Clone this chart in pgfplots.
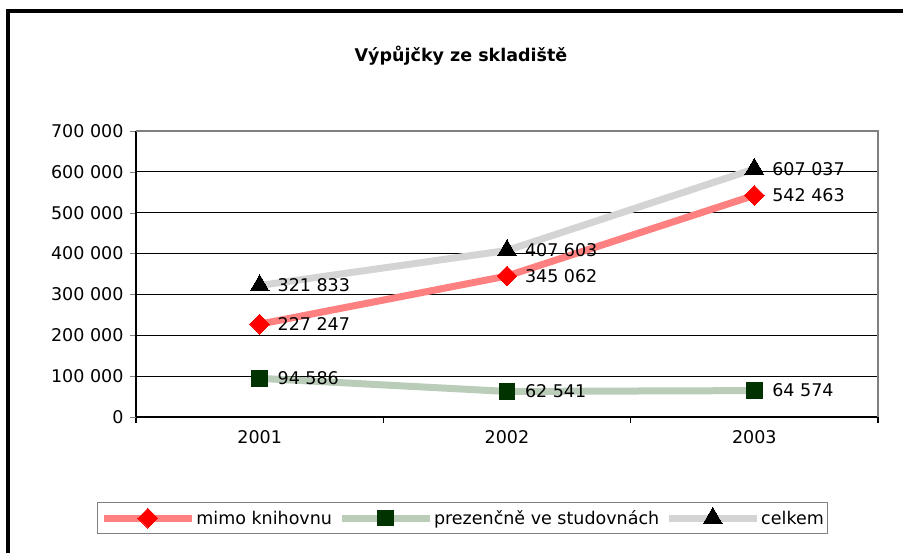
\documentclass[border=0pt]{standalone}
\usepackage{pgfplots}
\pgfplotsset{compat=1.18}
\usepackage{fontspec}
\setmainfont{DejaVu Sans}
\definecolor{salmonline}{RGB}{255,128,128}
\definecolor{greenline}{RGB}{185,205,185}
\definecolor{grayline}{RGB}{212,212,212}
\definecolor{darkgreenmark}{RGB}{0,51,0}
\definecolor{frameGray}{RGB}{128,128,128}
\newcommand{\chartfont}{\fontsize{17.5}{20}\selectfont}

\begin{document}
\begin{tikzpicture}[x=1pt,y=1pt]
  % outer chart frame, partly beyond the page edge
  \draw[line width=3.5pt] (8,-40) -- (8,542) -- (1000,542);
  \node[font=\bfseries\chartfont] at (461,497) {Výpůjčky ze skladiště};

  \begin{axis}[
      at={(136pt,136pt)}, anchor=south west,
      width=742pt, height=286pt, scale only axis,
      xmin=0.5, xmax=3.5, ymin=0, ymax=700000,
      scaled y ticks=false,
      axis x line*=bottom, axis y line*=left,
      axis line style={black, line width=1.1pt, -},
      xtick={1,2,3}, xticklabels={2001,2002,2003},
      minor xtick={0.5,1.5,2.5,3.5},
      major x tick style={draw=none},
      minor x tick style={black, line width=1.1pt},
      ytick={0,100000,...,700000},
      yticklabels={0,100 000,200 000,300 000,400 000,500 000,600 000,700 000},
      tick align=outside, major tick length=6pt, minor tick length=6pt,
      ymajorgrids, grid style={black, line width=0.8pt},
      tick label style={font=\chartfont},
      yticklabel style={xshift=-3pt},
      xticklabel style={yshift=-4pt},
      clip=false,
      legend columns=3,
      legend style={at={(-0.0526,-0.297)}, anchor=north west,
        draw=frameGray, line width=0.8pt, font=\chartfont,
        inner xsep=3pt, inner ysep=5pt,
        nodes={inner xsep=1pt},
        /tikz/every even column/.append style={column sep=5pt}},
      legend cell align=left,
      legend image code/.code={
        \draw[mark repeat=2, mark phase=2] plot coordinates {(0pt,0pt) (44pt,0pt) (88pt,0pt)};},
      nodes near coords, point meta=explicit symbolic,
      every node near coord/.append style={font=\chartfont, anchor=west, xshift=16pt, yshift=0pt, text=black, inner sep=2pt},
    ]
    \addplot[salmonline, line width=7pt, mark=square*, mark size=7pt,
      mark options={fill=red, draw=red, line width=0pt, rotate=45}]
      coordinates {(1,227247) [227 247] (2,345062) [345 062] (3,542463) [542 463]};
    \addlegendentry{mimo knihovnu}
    \addplot[greenline, line width=7pt, mark=square*, mark size=7.8pt,
      mark options={fill=darkgreenmark, draw=darkgreenmark, line width=0pt}]
      coordinates {(1,94586) [94 586] (2,62541) [62 541] (3,64574) [64 574]};
    \addlegendentry{prezenčně ve studovnách}
    \addplot[grayline, line width=7pt, mark=triangle*, mark size=10.8pt,
      mark options={fill=black, draw=black, line width=0pt}]
      coordinates {(1,321833) [321 833] (2,407603) [407 603] (3,607037) [607 037]};
    \addlegendentry{celkem}
    \draw[frameGray, line width=1.1pt] (rel axis cs:0,1) -- (rel axis cs:1,1) -- (rel axis cs:1,0);
  \end{axis}
  \pgfresetboundingbox
  \useasboundingbox (0,0) rectangle (903,553);
\end{tikzpicture}
\end{document}
